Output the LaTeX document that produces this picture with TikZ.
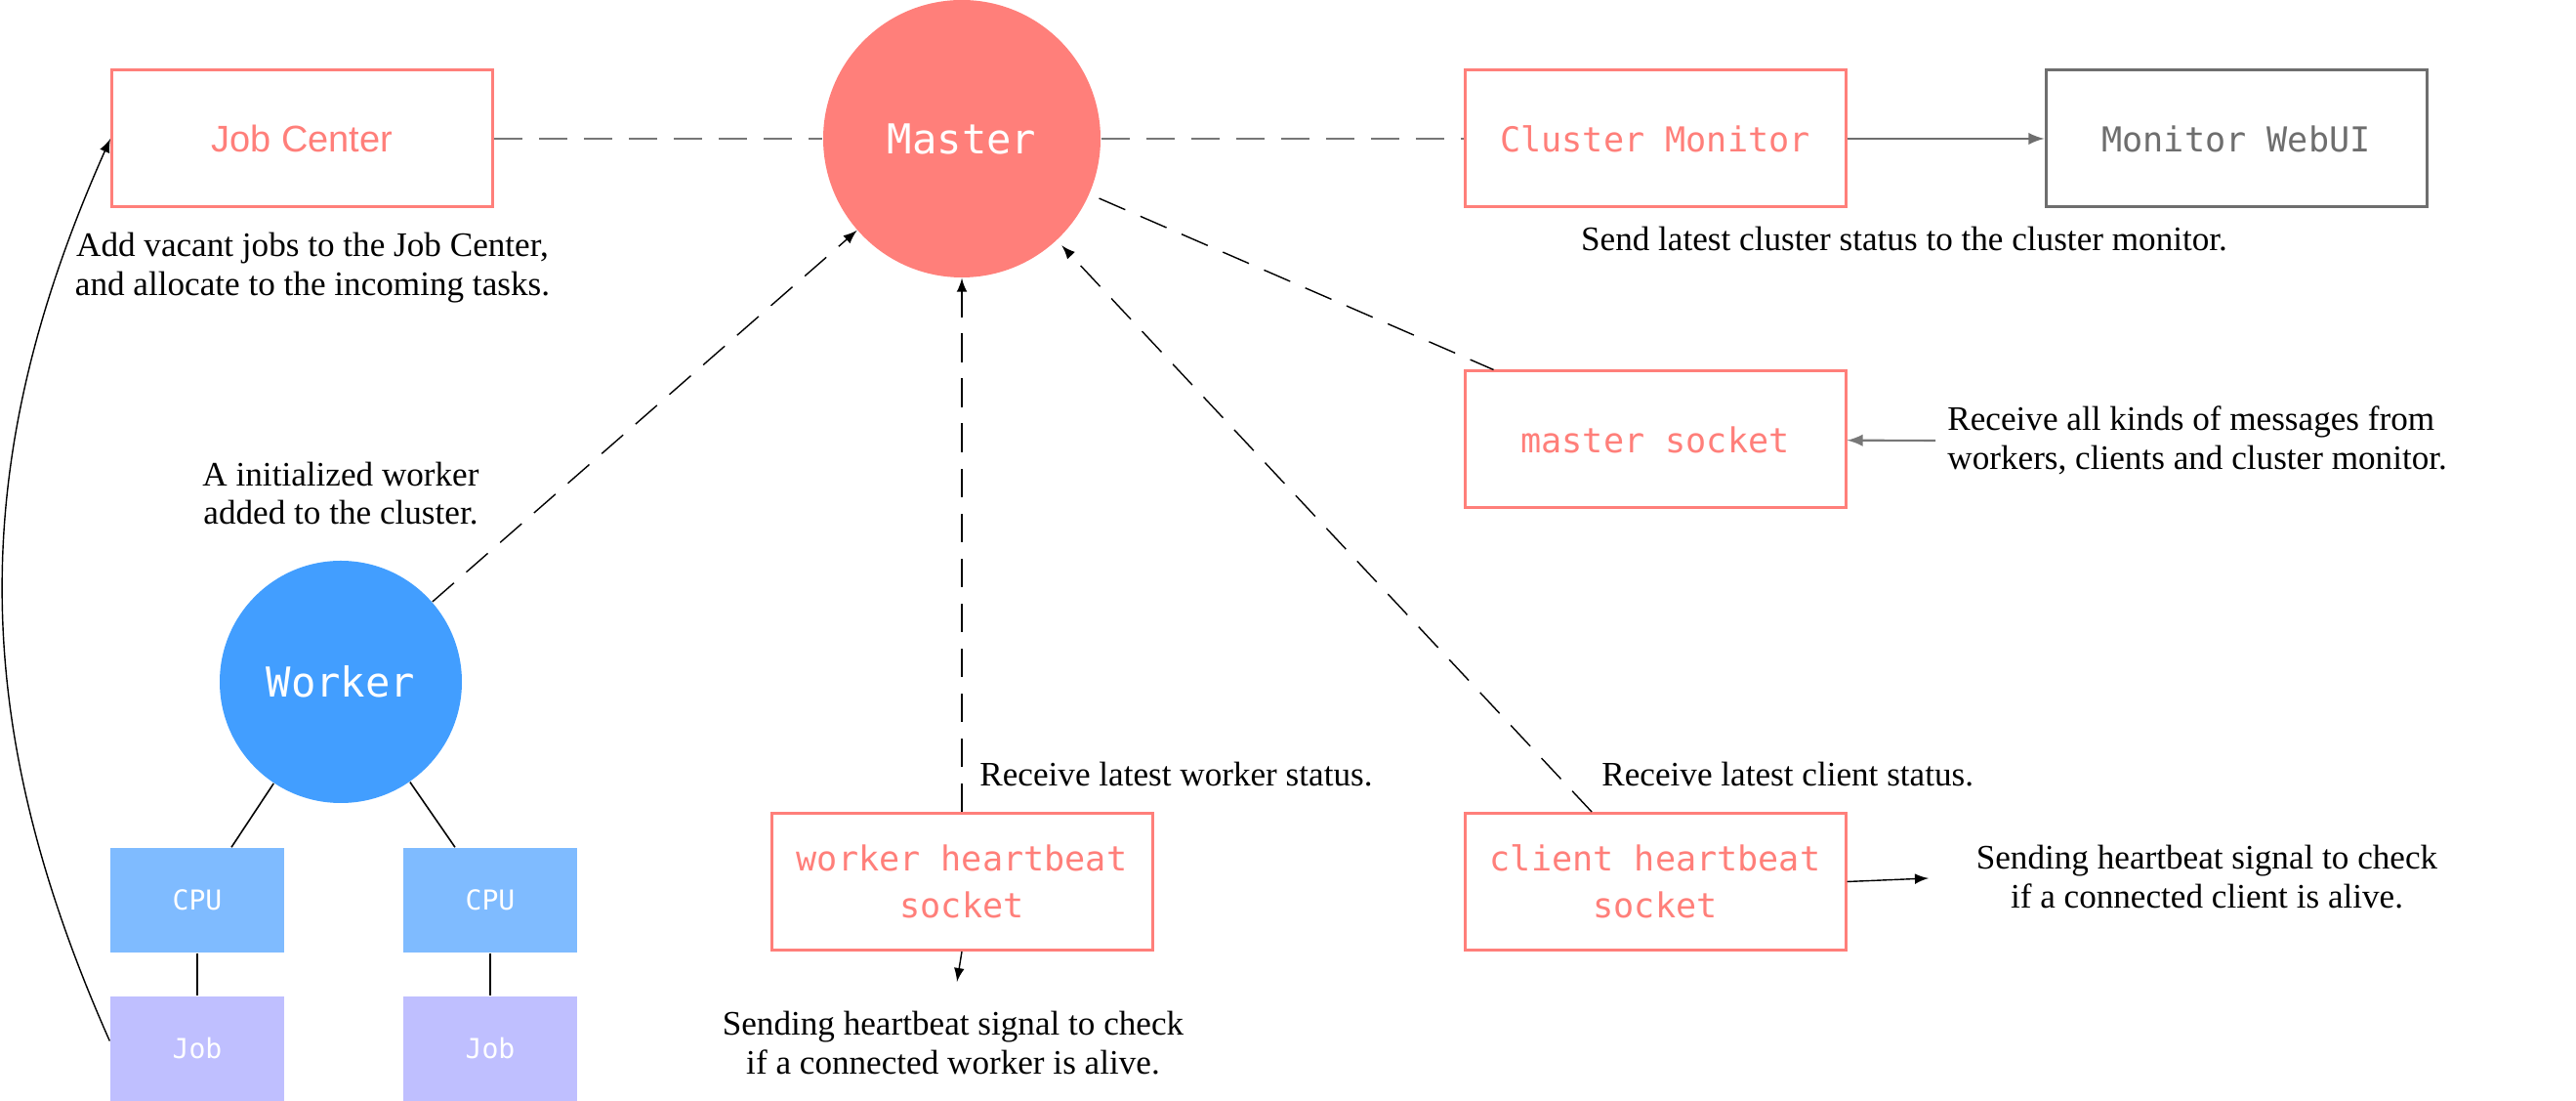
\documentclass[tikz,border=0pt]{standalone}
\usepackage{fontspec}
\setmainfont{Liberation Serif}
\newfontfamily\codefont{DejaVu Sans Mono}
\newfontfamily\uifont{Liberation Sans}
\usetikzlibrary{positioning,arrows}

\definecolor{salmon}{HTML}{FF7F7A}
\definecolor{workerblue}{HTML}{429EFF}
\definecolor{cpublue}{HTML}{7FBBFF}
\definecolor{jobpurple}{HTML}{BFBFFF}
\definecolor{webgray}{HTML}{6E6E6E}
\definecolor{linkgray}{HTML}{777777}

\begin{document}
\begin{tikzpicture}[>=latex,
		box/.style={draw=salmon, line width=0.85pt, text=salmon, minimum width=3.9cm, minimum height=1.4cm, align=center, font=\codefont\fontsize{10}{13.7}\selectfont},
		ball/.style={circle, text=white, font=\codefont\fontsize{12}{14}\selectfont},
		part/.style={minimum width=1.78cm, minimum height=1.07cm, text=white, font=\codefont\fontsize{8}{10}\selectfont},
		note/.style={align=center, font=\fontsize{10}{11.3}\selectfont},
		link/.style={linkgray, line width=0.6pt, dash pattern=on 8.3pt off 4.8pt},
		wire/.style={line width=0.4pt, dash pattern=on 8.3pt off 4.8pt}
		]
		\useasboundingbox (0,0) rectangle (26.38,-11.27);
		
		\node[ball, fill=salmon, minimum size=2.84cm] (master) at (9.85,-1.42) {Master};
		\node[box, font=\uifont\fontsize{10.8}{12}\selectfont] (jc) [left of=master, node distance=6.755cm] {Job Center};
		\node[box] (cm) [right of=master, node distance=7.1cm] {Cluster Monitor};
		\node[box, draw=webgray, text=webgray] (webui) [right of=cm, node distance=5.95cm] {Monitor WebUI};
		\node[box] (ms) [below of=cm, node distance=3.08cm] {master socket};
		\node[box] (whs) [below of=master, node distance=7.605cm] {worker heartbeat\\socket};
		\node[box] (chs) [below of=ms, node distance=4.525cm] {client heartbeat\\socket};
		
		\node[ball, fill=workerblue, minimum size=2.48cm] (worker) at (3.49,-6.98) {Worker};
		\node[part, fill=cpublue] (cpu1) at (2.02,-9.215) {CPU};
		\node[part, fill=cpublue] (cpu2) [right of=cpu1, node distance=3cm] {CPU};
		\node[part, fill=jobpurple] (job1) [below of=cpu1, node distance=1.52cm] {Job};
		\node[part, fill=jobpurple] (job2) [below of=cpu2, node distance=1.52cm] {Job};
		
		\node[note] (jcnote) at (3.2,-2.74) {Add vacant jobs to the Job Center,\\and allocate to the incoming tasks.};
		\node[note] (cmnote) at (19.5,-2.45) {Send latest cluster status to the cluster monitor.};
		\node[note, align=left, anchor=west] (msnote) at (19.82,-4.51) {Receive all kinds of messages from\\workers, clients and cluster monitor.};
		\node[note] (wnote) [above of=worker, node distance=1.93cm] {A initialized worker\\added to the cluster.};
		\node[note, anchor=west] (whsin) at (9.91,-7.93) {Receive latest worker status.};
		\node[note, anchor=west] (chsin) at (16.28,-7.93) {Receive latest client status.};
		\node[note] (whsnote) at (9.76,-10.675) {Sending heartbeat signal to check\\if a connected worker is alive.};
		\node[note] (chsnote) at (22.6,-8.975) {Sending heartbeat signal to check\\if a connected client is alive.};
		\coordinate (whsend) at (9.80,-10.05);
		\coordinate (chsend) at (19.75,-8.99);
		
		% master links
		\draw[link] (jc) -- (master);
		\draw[link] (master) -- (cm);
		\draw[->, webgray, line width=0.6pt] (cm) -- (webui);
		\draw[wire, shorten <=3pt] (master) -- ([xshift=0.31cm]ms.north west);
		\draw[->, linkgray, line width=0.6pt] (msnote.west) -- (ms);
		\draw[wire, ->] (worker) -- (master);
		\draw[wire, ->] (whs) -- (master);
		\draw[wire, ->, shorten >=2pt] ([xshift=-0.65cm]chs.north) -- (master);
		\draw[->, line width=0.4pt] (whs.south) -- (whsend);
		\draw[->, line width=0.4pt] (chs.east) -- (chsend);
		
		% worker
		\draw[line width=0.45pt] (worker) -- ([xshift=0.35cm]cpu1.north);
		\draw[line width=0.45pt] (worker) -- ([xshift=-0.36cm]cpu2.north);
		\draw[line width=0.6pt] (cpu1) -- (job1);
		\draw[line width=0.6pt] (cpu2) -- (job2);
		\draw[->, line width=0.4pt] ([yshift=0.08cm]job1.west) to[bend left=24] (jc.west);
	\end{tikzpicture}
\end{document}
